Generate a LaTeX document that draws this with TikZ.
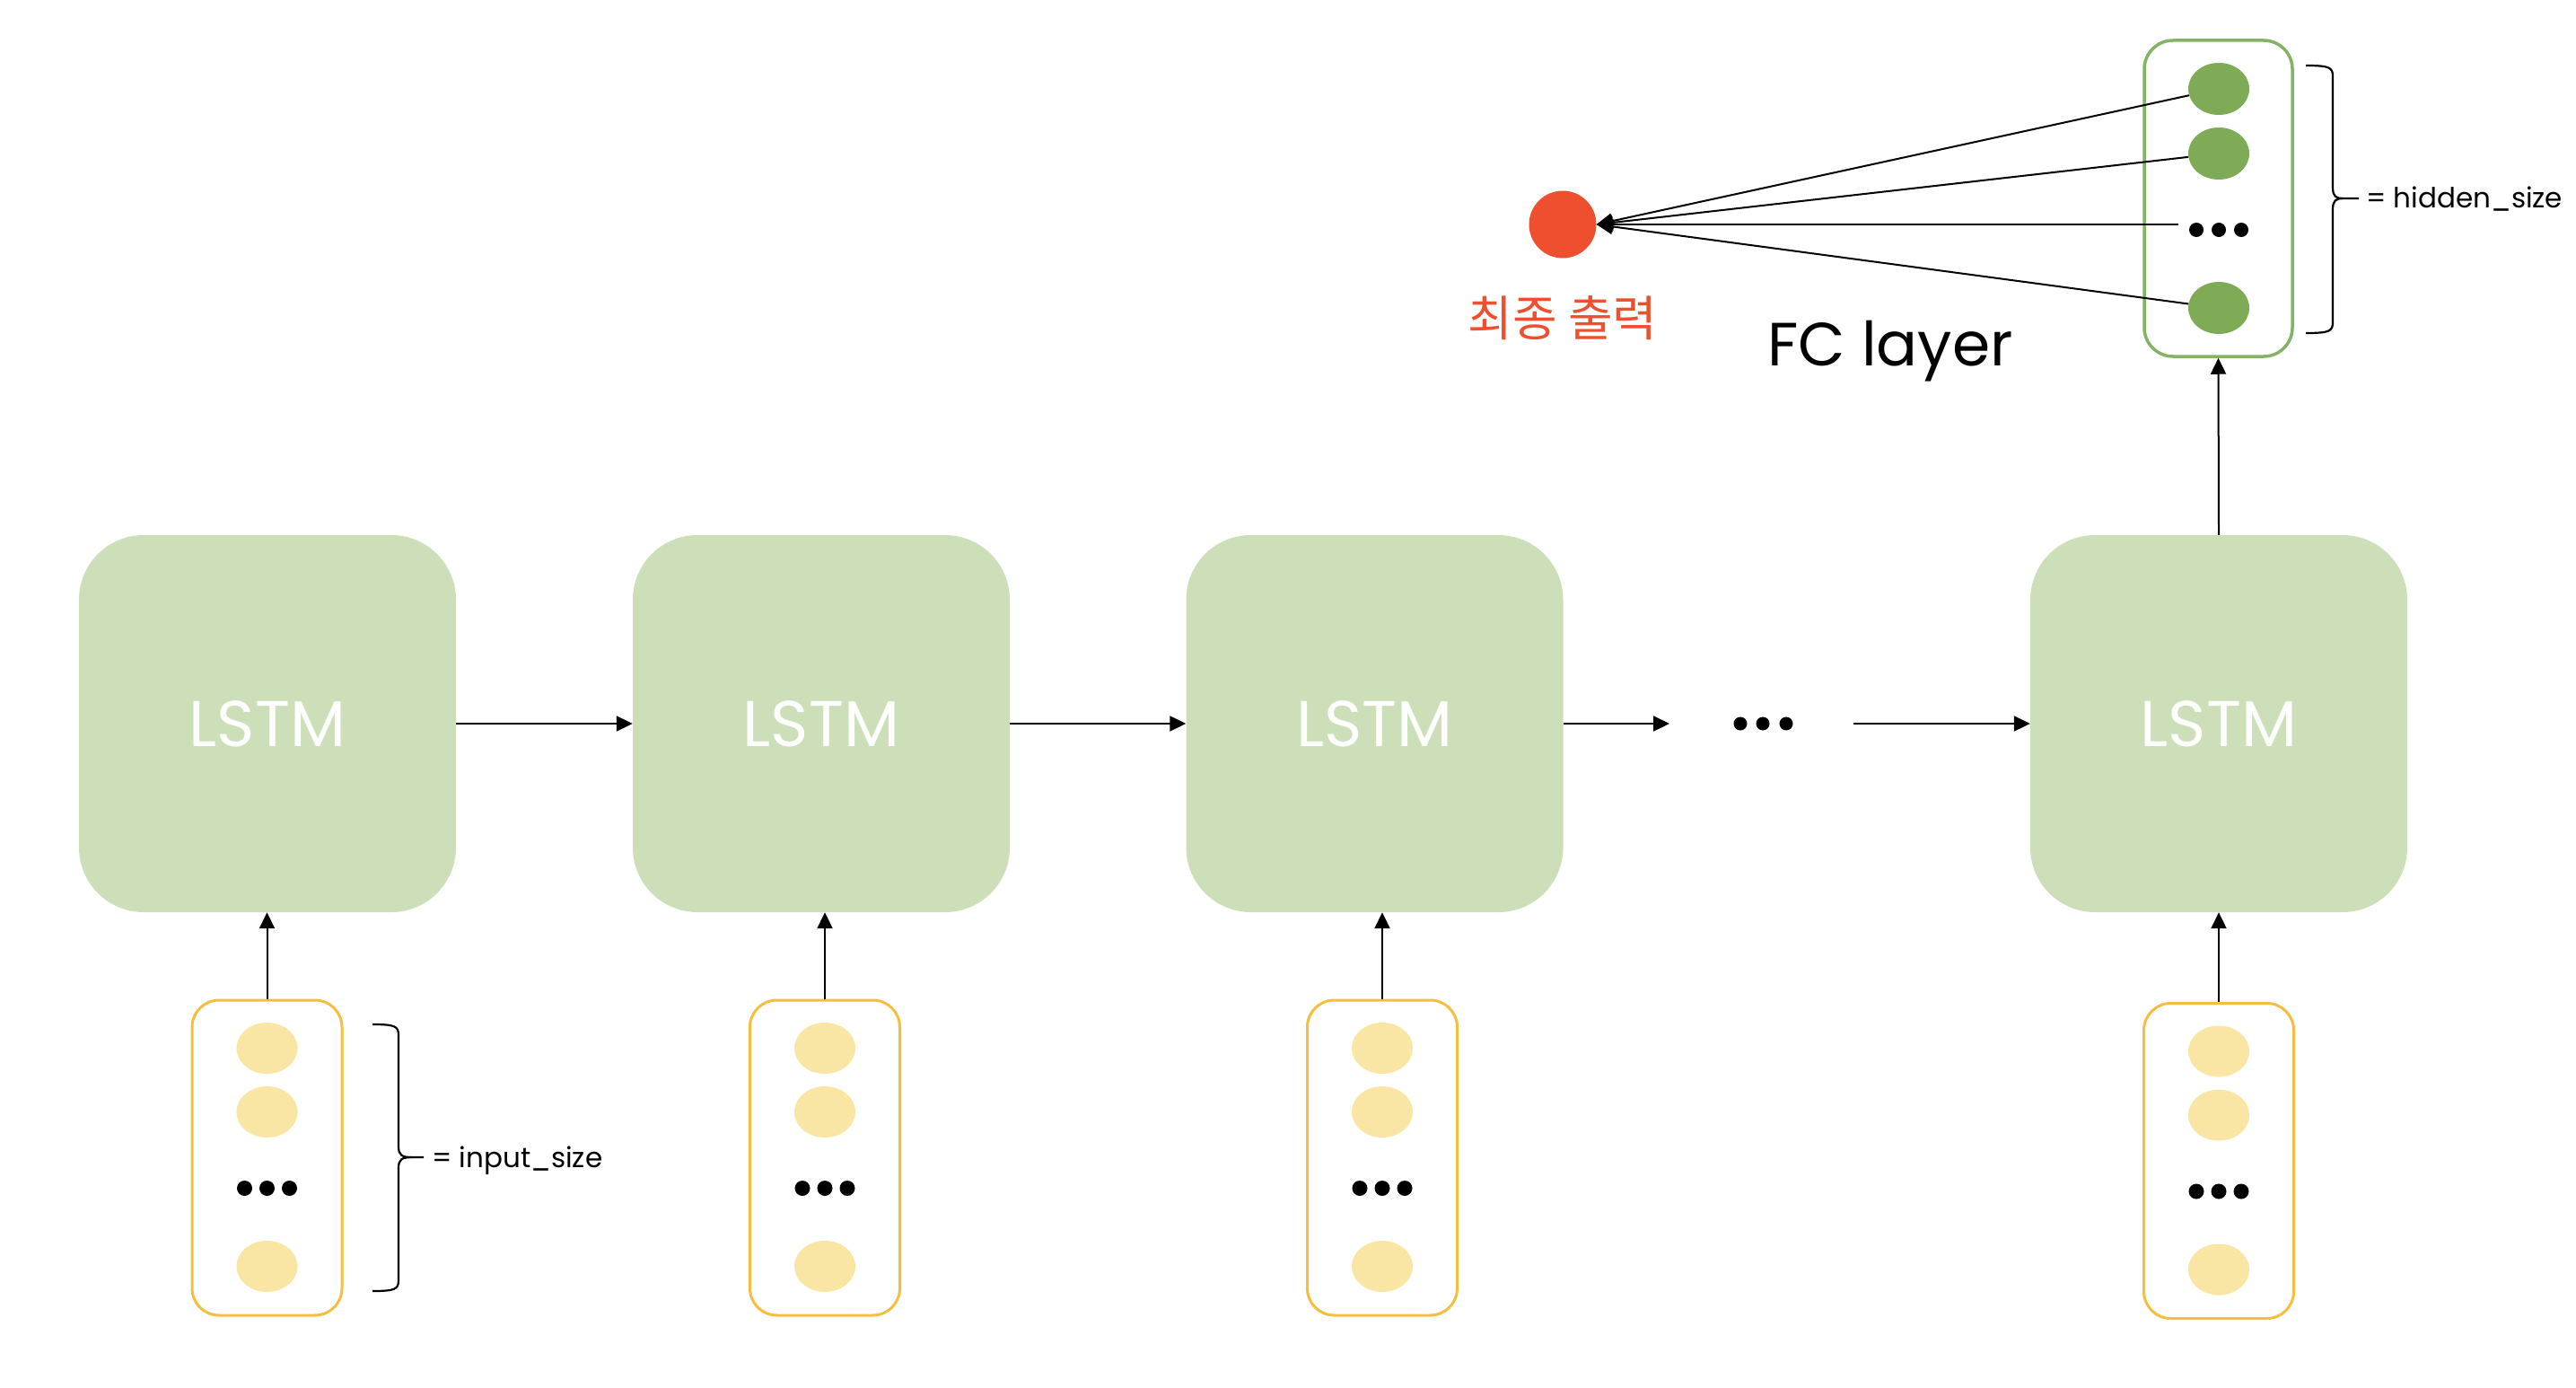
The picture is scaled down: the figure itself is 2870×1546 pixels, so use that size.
\documentclass[tikz,border=0pt]{standalone}
\usepackage{fontspec}
\setmainfont{Poppins}
\newfontfamily\krfont{Noto Sans CJK KR}
\usetikzlibrary{arrows.meta,calc,shapes.geometric}
\definecolor{lstmgreen}{HTML}{CCDFB8}
\definecolor{fcgreen}{HTML}{82B366}
\definecolor{fcfill}{HTML}{7FAB57}
\definecolor{inorange}{HTML}{F5BE3E}
\definecolor{yel}{HTML}{FAE6A4}
\definecolor{outred}{HTML}{EE502F}
\tikzset{
  lstmbox/.style={rectangle, rounded corners=72pt, fill=lstmgreen, minimum width=420pt,
    minimum height=420pt, inner sep=0pt, text=white, font=\fontsize{72}{80}\selectfont},
  vecbox/.style={rectangle, rounded corners=30pt, line width=3pt, minimum width=167pt,
    minimum height=351pt, inner sep=0pt},
  unit/.style={ellipse, minimum width=68pt, minimum height=57pt, inner sep=0pt},
  dotrow/.style={rectangle, minimum width=90pt, minimum height=17pt, inner sep=0pt},
  arr/.style={line width=2pt, -{Triangle[length=18pt,width=17pt]}},
  bracestyle/.style={line width=2.2pt},
  sizelabel/.style={anchor=base west, inner sep=0pt, font=\fontsize{31}{38}\selectfont},
}
\newcommand{\drawbrace}[7]{%
  \draw[bracestyle] (#1,#5) .. controls (#2-4,#5) and (#2,#5+2) .. (#2,#5+12) -- (#2,#6-12)
    .. controls (#2,#6-2) and (#2+4,#6) .. (#3,#6) -- (#4,#6);
  \draw[bracestyle] (#3,#6) .. controls (#2+4,#6) and (#2,#6+2) .. (#2,#6+12) -- (#2,#7-12)
    .. controls (#2,#7-2) and (#2-4,#7) .. (#1,#7);}
\begin{document}
\begin{tikzpicture}[x=1pt,y=-1pt]
\useasboundingbox (0,0) rectangle (2870,1546);
% LSTM cells
\node[lstmbox] (l1) at (298,806) {LSTM};
\node[lstmbox] (l2) at (915,806) {LSTM};
\node[lstmbox] (l3) at (1531.5,806) {LSTM};
\node[lstmbox] (l4) at (2472,806) {LSTM};
% input vectors
\foreach \n/\px/\py in {in1/297.5/1289.5, in2/919/1289.5, in3/1540/1289.5, in4/2472/1293} {
  \node[vecbox, draw=inorange] (\n) at (\px,\py) {};
  \node[unit, fill=yel] (\n-a) at (\px,\py-122) {};
  \node[unit, fill=yel] (\n-b) at (\px,\py-51) {};
  \node[dotrow] (\n-d) at (\px,\py+34) {};
  \node[unit, fill=yel] (\n-c) at (\px,\py+121) {};
  \foreach \d in {-25,0,25} \fill ($(\n-d)+(\d,0)$) circle (8.5pt);
  \draw[arr] (\n.north) -- (\n.north |- l1.south);
}
% FC layer vector
\node[vecbox, draw=fcgreen, line width=3.5pt, rounded corners=32pt, minimum width=165pt,
  minimum height=352pt] (fc) at (2471.5,221) {};
\node[unit, fill=fcfill, minimum height=58pt] (fc-a) at (2472,99) {};
\node[unit, fill=fcfill, minimum height=58pt] (fc-b) at (2472,171) {};
\node[dotrow, minimum width=90pt] (fc-d) at (2472,256) {};
\node[unit, fill=fcfill, minimum height=58pt] (fc-c) at (2472,343) {};
\foreach \d in {-25,0,25} \fill ($(fc-d)+(\d,0)$) circle (8pt);
% output
\node[circle, fill=outred, minimum size=75pt, inner sep=0pt] (out) at (1741,250) {};
\node[text=outred, inner sep=0pt, font=\krfont\fontsize{54}{60}\selectfont] (outlabel) at (1741,354) {최종 출력};
\node[anchor=base, inner sep=0pt, font=\fontsize{68}{80}\selectfont] (fclabel) at (2106,407) {FC layer};
% recurrent chain
\draw[arr] (l1.east) -- (l2.west);
\draw[arr] (l2.east) -- (l3.west);
\coordinate (gapend) at (1860,806);
\coordinate (gapstart) at (2065,806);
\draw[arr] (l3.east) -- (gapend);
\node[dotrow] (middots) at (1964,806) {};
\foreach \d in {-25,0,26} \fill ($(middots)+(\d,0)$) circle (7.5pt);
\draw[arr] (gapstart) -- (l4.west);
% to FC and output
\draw[arr] (l4.north) -- (fc.south);
\draw[arr] (fc-a) -- (out.east);
\draw[arr] (fc-b) -- (out.east);
\draw[arr] (fc-d.west |- out.east) -- (out.east);
\draw[arr] (fc-c) -- (out.east);
% braces
\drawbrace{415}{444}{459}{472}{1141}{1289}{1438}
\node[sizelabel] (inlabel) at (481,1300) {= input\_size};
\drawbrace{2569}{2599}{2610}{2628}{73}{221}{371}
\node[sizelabel] (hidlabel) at (2636,232) {= hidden\_size};
\end{tikzpicture}
\end{document}
